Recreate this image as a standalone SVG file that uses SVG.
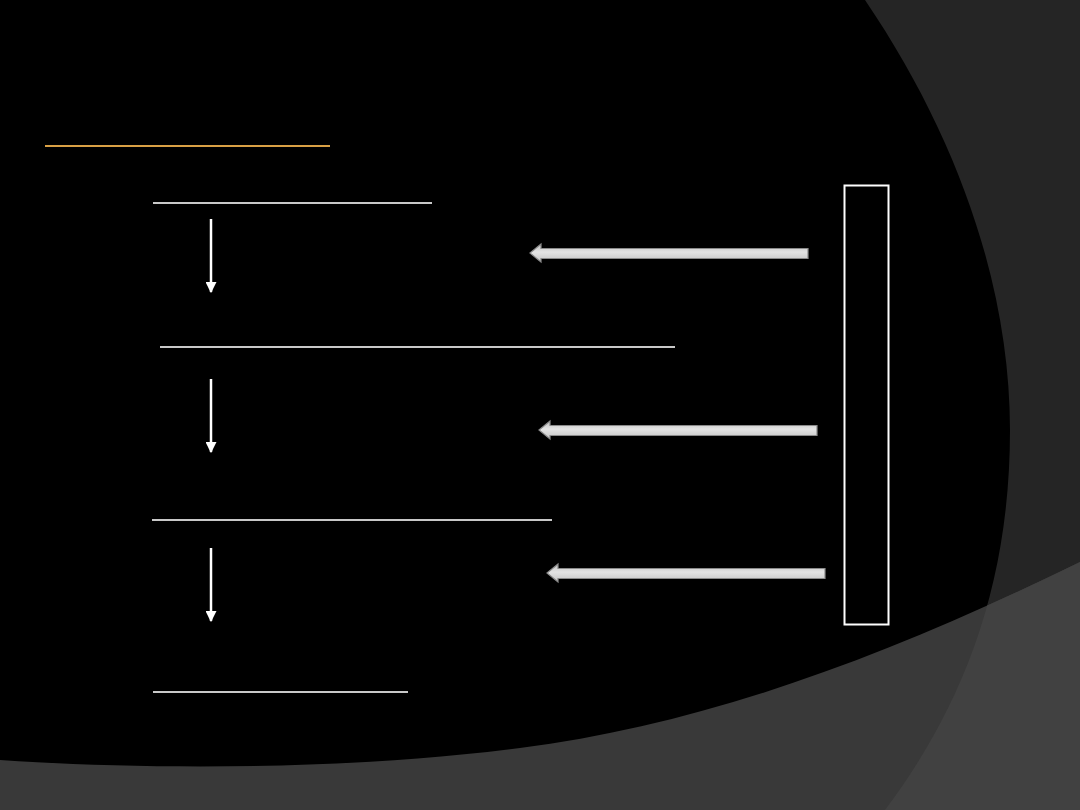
<svg xmlns="http://www.w3.org/2000/svg" width="1080" height="810" viewBox="0 0 1080 810">
<defs>
<style>
.hl{stroke:#c8c8c8;stroke-width:2.2;fill:none}
.down{stroke:#ffffff;stroke-width:2.5;fill:none}
.block{fill:url(#bg);stroke:#8a8a8a;stroke-width:1.2}
</style>
<linearGradient id="bg" x1="0" y1="0" x2="0" y2="1">
<stop offset="0" stop-color="#bdbdbd"/>
<stop offset="0.45" stop-color="#e4e4e4"/>
<stop offset="1" stop-color="#c4c4c4"/>
</linearGradient>
<marker id="ah" viewBox="0 0 10 10" refX="9" refY="5" markerWidth="4.4" markerHeight="4.4" markerUnits="strokeWidth" orient="auto">
<path d="M0,0 L10,5 L0,10 Z" fill="#ffffff"/>
</marker>
<clipPath id="rc"><path d="M865,0 C960,140 1010,290 1010,430 C1010,590 960,710 885,810 L1080,810 L1080,0 Z"/></clipPath>
</defs>
<rect width="1080" height="810" fill="#000000"/>
<path d="M865,0 C960,140 1010,290 1010,430 C1010,590 960,710 885,810 L1080,810 L1080,0 Z" fill="#252525"/>
<path d="M0,760 C150,770 350,770 520,748 C700,725 880,660 1080,562 L1080,810 L0,810 Z" fill="#393939"/>
<path d="M0,760 C150,770 350,770 520,748 C700,725 880,660 1080,562 L1080,810 L0,810 Z" fill="#414141" clip-path="url(#rc)"/>
<line x1="45" y1="146" x2="330" y2="146" stroke="#d9a045" stroke-width="2"/>
<g id="node1"><line class="hl" x1="153" y1="203" x2="432" y2="203"/></g>
<g id="node2"><line class="hl" x1="160" y1="347" x2="675" y2="347"/></g>
<g id="node3"><line class="hl" x1="152" y1="520" x2="552" y2="520"/></g>
<g id="node4"><line class="hl" x1="153" y1="692" x2="408" y2="692"/></g>
<g id="box"><rect x="844.5" y="185.5" width="44" height="439" fill="#000000" stroke="#ffffff" stroke-width="2"/></g>
<g id="connectors">
<line class="down" x1="211" y1="219" x2="211" y2="292" marker-end="url(#ah)"/>
<line class="down" x1="211" y1="379" x2="211" y2="452" marker-end="url(#ah)"/>
<line class="down" x1="211" y1="548" x2="211" y2="621" marker-end="url(#ah)"/>
<path class="block" d="M530,253 L541,244 L541,248.5 L808,248.5 L808,258.5 L541,258.5 L541,262 Z"/>
<path class="block" d="M539,430 L550,421 L550,425.5 L817,425.5 L817,435.5 L550,435.5 L550,439 Z"/>
<path class="block" d="M547,573 L558,564 L558,568.5 L825,568.5 L825,578.5 L558,578.5 L558,582 Z"/>
</g>
</svg>
